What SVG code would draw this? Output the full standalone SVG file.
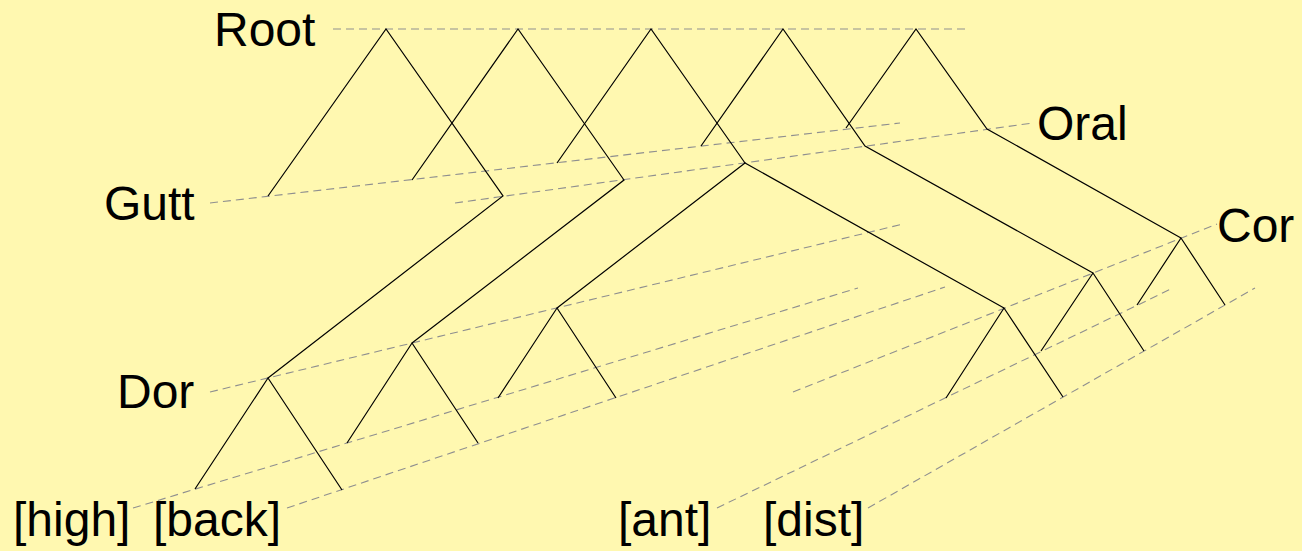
<svg xmlns="http://www.w3.org/2000/svg" width="1302" height="551" viewBox="0 0 1302 551">
<style>
.tier{stroke:#8f8f8f;stroke-width:1.1;stroke-dasharray:8 5;fill:none}
.br{stroke:#000;stroke-width:1.2;fill:none;stroke-linejoin:miter}
.lbl{font-family:"Liberation Sans",Arial,sans-serif;font-size:48px;fill:#000}
</style>
<rect x="0" y="0" width="1302" height="551" fill="#FFF8B0"/>
<g id="tiers">
<line class="tier" x1="333" y1="29" x2="965" y2="29"/>
<line class="tier" x1="210" y1="203" x2="900" y2="123"/>
<line class="tier" x1="455" y1="203" x2="1033" y2="123"/>
<line class="tier" x1="210" y1="392" x2="903" y2="224"/>
<line class="tier" x1="793" y1="392" x2="1217" y2="224"/>
<line class="tier" x1="133" y1="508" x2="858" y2="288"/>
<line class="tier" x1="287" y1="508" x2="945" y2="287"/>
<line class="tier" x1="717" y1="508" x2="1173" y2="288"/>
<line class="tier" x1="868" y1="508" x2="1255" y2="288"/>
</g>
<g id="connectors">
<polyline class="br" points="268,196 386,29 503,196 268,378"/>
<polyline class="br" points="195,489 268,378 342,490"/>
<polyline class="br" points="412,180 518,29 624,180 412,343"/>
<polyline class="br" points="347,443 412,343 478,443"/>
<polyline class="br" points="557,163 651,29 745,163"/>
<polyline class="br" points="557,308 745,163 1004,308"/>
<polyline class="br" points="498,398 557,308 616,398"/>
<polyline class="br" points="946,398 1004,308 1063,397"/>
<polyline class="br" points="701,146 783,29 865,146 1093,273"/>
<polyline class="br" points="1041,351 1093,273 1144,351"/>
<polyline class="br" points="846,128 916,29 987,129 1181,238"/>
<polyline class="br" points="1137,305 1181,238 1225,305"/>
</g>
<g id="node-root"><text class="lbl" x="214" y="46">Root</text></g>
<g id="node-gutt"><text class="lbl" x="104" y="220">Gutt</text></g>
<g id="node-oral"><text class="lbl" x="1037" y="140">Oral</text></g>
<g id="node-dor"><text class="lbl" x="117" y="408">Dor</text></g>
<g id="node-cor"><text class="lbl" x="1217" y="242">Cor</text></g>
<g id="node-high"><text class="lbl" x="13" y="536">[high]</text></g>
<g id="node-back"><text class="lbl" x="153" y="536">[back]</text></g>
<g id="node-ant"><text class="lbl" x="618" y="536">[ant]</text></g>
<g id="node-dist"><text class="lbl" x="763" y="536">[dist]</text></g>
</svg>
